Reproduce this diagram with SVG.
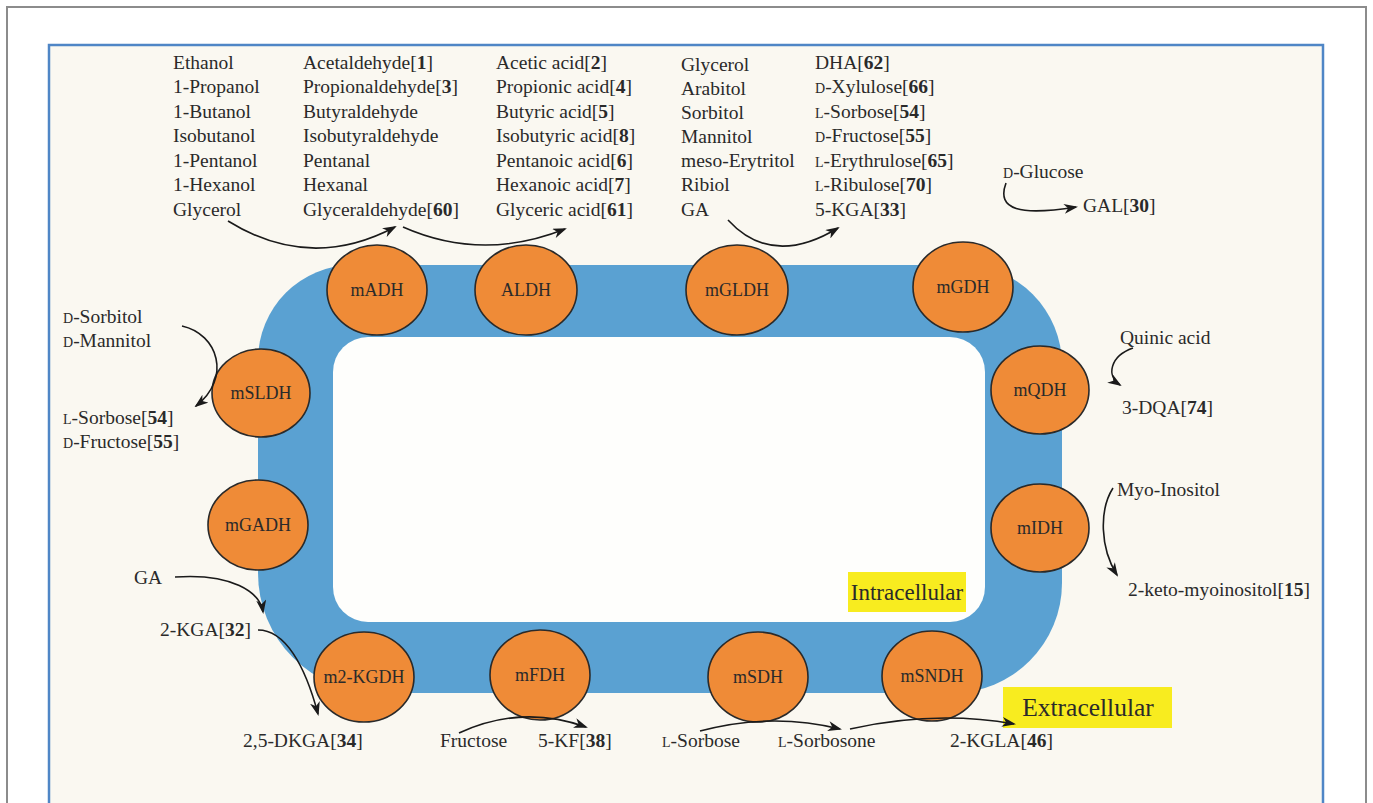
<svg xmlns="http://www.w3.org/2000/svg" width="1373" height="803" viewBox="0 0 1373 803">
<defs>
<marker id="ah" markerWidth="14" markerHeight="10" refX="12" refY="5" orient="auto" markerUnits="userSpaceOnUse">
<path d="M0,0 L14,5 L0,10 L4,5 Z" fill="#1a1a1a"/>
</marker>
<style>
text{font-family:"Liberation Serif","Times New Roman",serif;font-size:19.5px;fill:#2a2a2a}
.n{font-weight:bold}
.sc{font-size:14px}
.enz ellipse{fill:#EF8B37;stroke:#2a2a2a;stroke-width:1.6}
.enz text{font-size:18px;text-anchor:middle}
.arr{fill:none;stroke:#1a1a1a;stroke-width:1.6;marker-end:url(#ah)}
.lbl-in{text-anchor:middle;font-size:23px}
.lbl-ex{text-anchor:middle;font-size:25.5px}
</style>
</defs>
<rect x="0" y="0" width="1373" height="803" fill="#ffffff"/>
<rect x="7" y="7" width="1359" height="820" fill="none" stroke="#8c8c8c" stroke-width="2"/>
<rect x="49" y="45" width="1274" height="790" fill="#FAF8F1" stroke="#4F86C6" stroke-width="2.5"/>
<g id="membrane">
<path d="M353,265 H962 A100,100 0 0 1 1062,365 V583 A110,110 0 0 1 952,693 H378 A120,120 0 0 1 258,573 V360 A95,95 0 0 1 353,265 Z" fill="#5AA1D2"/>
<rect x="333" y="337" width="652" height="285" rx="35" fill="#FEFEFC"/>
</g>
<g id="label-intracellular">
<rect x="848" y="572" width="118" height="40" fill="#F8EC1F"/>
<text class="lbl-in" x="907" y="600">Intracellular</text>
</g>
<g id="label-extracellular">
<rect x="1003" y="687" width="169" height="41" fill="#F8EC1F"/>
<text class="lbl-ex" x="1088" y="716">Extracellular</text>
</g>
<g id="mADH" class="enz"><ellipse cx="377" cy="290" rx="50" ry="45"/><text x="377" y="296">mADH</text></g>
<g id="ALDH" class="enz"><ellipse cx="526" cy="290" rx="51" ry="45"/><text x="526" y="296">ALDH</text></g>
<g id="mGLDH" class="enz"><ellipse cx="737" cy="290" rx="51" ry="45"/><text x="737" y="296">mGLDH</text></g>
<g id="mGDH" class="enz"><ellipse cx="963" cy="287" rx="50" ry="45"/><text x="963" y="293">mGDH</text></g>
<g id="mQDH" class="enz"><ellipse cx="1040" cy="390" rx="49" ry="44"/><text x="1040" y="396">mQDH</text></g>
<g id="mIDH" class="enz"><ellipse cx="1040" cy="528" rx="49" ry="44"/><text x="1040" y="534">mIDH</text></g>
<g id="mSLDH" class="enz"><ellipse cx="261" cy="393" rx="49" ry="44"/><text x="261" y="399">mSLDH</text></g>
<g id="mGADH" class="enz"><ellipse cx="258" cy="525" rx="50" ry="45"/><text x="258" y="531">mGADH</text></g>
<g id="m2-KGDH" class="enz"><ellipse cx="364" cy="677" rx="50" ry="45"/><text x="364" y="683">m2-KGDH</text></g>
<g id="mFDH" class="enz"><ellipse cx="540" cy="675" rx="50" ry="45"/><text x="540" y="681">mFDH</text></g>
<g id="mSDH" class="enz"><ellipse cx="758" cy="677" rx="50" ry="45"/><text x="758" y="683">mSDH</text></g>
<g id="mSNDH" class="enz"><ellipse cx="932" cy="676" rx="50" ry="45"/><text x="932" y="682">mSNDH</text></g>
<g id="connectors">
<path class="arr" d="M228,221 Q310,272 395,227"/>
<path class="arr" d="M403,227 Q482,262 565,229"/>
<path class="arr" d="M728,220 Q772,268 838,228"/>
<path class="arr" d="M1006,183 C996,210 1020,216 1076,207"/>
<path class="arr" d="M182,326 C218,334 232,378 196,406"/>
<path class="arr" d="M1133,348 C1110,356 1106,376 1120,385"/>
<path class="arr" d="M1113,488 C1099,510 1100,548 1117,575"/>
<path class="arr" d="M175,577 C232,573 260,592 263,612"/>
<path class="arr" d="M258,630 C285,630 305,665 318,714"/>
<path class="arr" d="M459,733 Q522,704 586,727"/>
<path class="arr" d="M700,731 Q772,712 840,729"/>
<path class="arr" d="M850,729 Q935,710 1014,724"/>
</g>
<g id="alcohols">
<text x="173" y="69">Ethanol</text>
<text x="173" y="93">1-Propanol</text>
<text x="173" y="118">1-Butanol</text>
<text x="173" y="142">Isobutanol</text>
<text x="173" y="167">1-Pentanol</text>
<text x="173" y="191">1-Hexanol</text>
<text x="173" y="216">Glycerol</text>
</g>
<g id="aldehydes">
<text x="303" y="69">Acetaldehyde[<tspan class="n">1</tspan>]</text>
<text x="303" y="93">Propionaldehyde[<tspan class="n">3</tspan>]</text>
<text x="303" y="118">Butyraldehyde</text>
<text x="303" y="142">Isobutyraldehyde</text>
<text x="303" y="167">Pentanal</text>
<text x="303" y="191">Hexanal</text>
<text x="303" y="216">Glyceraldehyde[<tspan class="n">60</tspan>]</text>
</g>
<g id="acids">
<text x="496" y="69">Acetic acid[<tspan class="n">2</tspan>]</text>
<text x="496" y="93">Propionic acid[<tspan class="n">4</tspan>]</text>
<text x="496" y="118">Butyric acid[<tspan class="n">5</tspan>]</text>
<text x="496" y="142">Isobutyric acid[<tspan class="n">8</tspan>]</text>
<text x="496" y="167">Pentanoic acid[<tspan class="n">6</tspan>]</text>
<text x="496" y="191">Hexanoic acid[<tspan class="n">7</tspan>]</text>
<text x="496" y="216">Glyceric acid[<tspan class="n">61</tspan>]</text>
</g>
<g id="polyols">
<text x="681" y="71">Glycerol</text>
<text x="681" y="95">Arabitol</text>
<text x="681" y="119">Sorbitol</text>
<text x="681" y="143">Mannitol</text>
<text x="681" y="167">meso-Erytritol</text>
<text x="681" y="191">Ribiol</text>
<text x="681" y="216">GA</text>
</g>
<g id="ketoses">
<text x="815" y="69">DHA[<tspan class="n">62</tspan>]</text>
<text x="815" y="93"><tspan class="sc">D</tspan>-Xylulose[<tspan class="n">66</tspan>]</text>
<text x="815" y="118"><tspan class="sc">L</tspan>-Sorbose[<tspan class="n">54</tspan>]</text>
<text x="815" y="142"><tspan class="sc">D</tspan>-Fructose[<tspan class="n">55</tspan>]</text>
<text x="815" y="167"><tspan class="sc">L</tspan>-Erythrulose[<tspan class="n">65</tspan>]</text>
<text x="815" y="191"><tspan class="sc">L</tspan>-Ribulose[<tspan class="n">70</tspan>]</text>
<text x="815" y="216">5-KGA[<tspan class="n">33</tspan>]</text>
</g>
<g id="gdh-texts">
<text x="1003" y="178"><tspan class="sc">D</tspan>-Glucose</text>
<text x="1083" y="212">GAL[<tspan class="n">30</tspan>]</text>
</g>
<g id="sldh-texts">
<text x="63" y="323"><tspan class="sc">D</tspan>-Sorbitol</text>
<text x="63" y="347"><tspan class="sc">D</tspan>-Mannitol</text>
<text x="63" y="424"><tspan class="sc">L</tspan>-Sorbose[<tspan class="n">54</tspan>]</text>
<text x="63" y="448"><tspan class="sc">D</tspan>-Fructose[<tspan class="n">55</tspan>]</text>
</g>
<g id="qdh-texts">
<text x="1120" y="344">Quinic acid</text>
<text x="1122" y="414">3-DQA[<tspan class="n">74</tspan>]</text>
</g>
<g id="idh-texts">
<text x="1117" y="496">Myo-Inositol</text>
<text x="1128" y="596">2-keto-myoinositol[<tspan class="n">15</tspan>]</text>
</g>
<g id="gadh-texts">
<text x="134" y="584">GA</text>
<text x="160" y="636">2-KGA[<tspan class="n">32</tspan>]</text>
<text x="243" y="747">2,5-DKGA[<tspan class="n">34</tspan>]</text>
</g>
<g id="bottom-texts">
<text x="440" y="747">Fructose</text>
<text x="538" y="747">5-KF[<tspan class="n">38</tspan>]</text>
<text x="662" y="747"><tspan class="sc">L</tspan>-Sorbose</text>
<text x="778" y="747"><tspan class="sc">L</tspan>-Sorbosone</text>
<text x="950" y="747">2-KGLA[<tspan class="n">46</tspan>]</text>
</g>
</svg>
